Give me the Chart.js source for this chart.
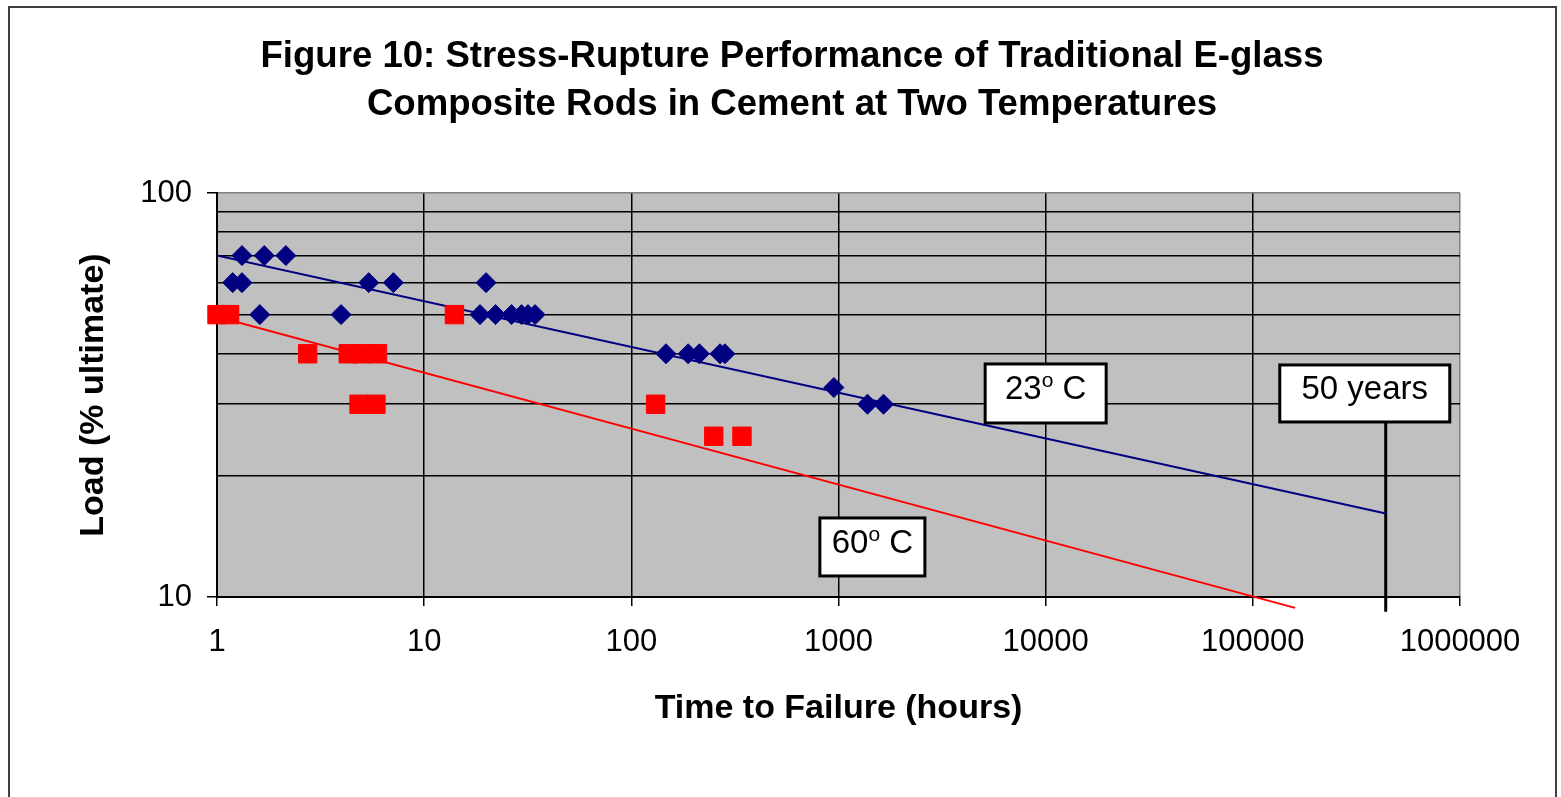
<!DOCTYPE html>
<html>
<head>
<meta charset="utf-8">
<title>Figure 10: Stress-Rupture Performance</title>
<script src="https://cdn.jsdelivr.net/npm/chart.js@4.4.0/dist/chart.umd.min.js"></script>
<style>
  html, body { margin: 0; padding: 0; background: #fff; }
</style>
</head>
<body>
<canvas id="stressChart" width="1561" height="797"></canvas>
<script>
/* =======================
   DATA
======================= */
const titleLines = [
  "Figure 10: Stress-Rupture Performance of Traditional E-glass",
  "Composite Rods in Cement at Two Temperatures"
];

// 23 C test results (hours to failure, load % ultimate)
const hours23 = [1.32, 1.69, 2.15, 1.19, 1.32, 5.4, 7.1, 19.9, 1.61, 3.97, 18.6, 22.1,
  26.4, 29.5, 31.7, 34.3, 147, 188, 213, 268, 283, 950, 1380, 1650];
const load23 = [70, 70, 70, 60, 60, 60, 60, 60, 50, 50, 50, 50,
  50, 50, 50, 50, 40, 40, 40, 40, 40, 33, 30, 30];

// 60 C test results
const hours60 = [1.0, 1.15, 14.0, 2.74, 4.3, 5.0, 5.95, 4.85, 5.85, 131, 250, 342];
const load60 = [50, 50, 50, 40, 40, 40, 40, 30, 30, 30, 25, 25];

// trend lines (end points)
const trend23Hours = [1, 438000];
const trend23Load = [70, 16.1];
const trend60Hours = [1, 160000];
const trend60Load = [49.4, 9.4];

// 50 year marker
const fiftyYearHours = [438000, 438000];
const fiftyYearLoad = [27.1, 9.2];

// axes
const xTickValues = [1, 10, 100, 1000, 10000, 100000, 1000000];
const xTickLabels = ["1", "10", "100", "1000", "10000", "100000", "1000000"];
const yGridValues = [10, 20, 30, 40, 50, 60, 70, 80, 90, 100];
const yLabelValues = [10, 100];
const yLabelTexts = ["10", "100"];

const FONT = '"Liberation Sans", Arial, sans-serif';

/* =======================
   TEXT BOXES ON THE PLOT
======================= */
const labelBoxes = [
  { main: "23", sup: "o", tail: " C", hours: 10000, load: 31.9, w: 121, h: 59 },
  { main: "60", sup: "o", tail: " C", hours: 1457, load: 13.3, w: 105, h: 58 },
  { main: "50 years", sup: "", tail: "", hours: 347000, load: 31.9, w: 170, h: 57 }
];

function toPoints(xs, ys) {
  return xs.map((x, i) => ({ x: x, y: ys[i] }));
}

/* =======================
   PLUGINS
======================= */
const framePlugin = {
  id: "frame",
  beforeDraw(chart) {
    const ctx = chart.ctx;
    const a = chart.chartArea;
    ctx.save();
    ctx.fillStyle = "#fff";
    ctx.fillRect(0, 0, chart.width, chart.height);
    ctx.strokeStyle = "#404040";
    ctx.lineWidth = 2;
    ctx.strokeRect(9, 7, 1547, 820);
    ctx.fillStyle = "#c0c0c0";
    ctx.fillRect(a.left, a.top, a.right - a.left, a.bottom - a.top);

    // title
    ctx.fillStyle = "#000";
    ctx.font = "bold 36.6px " + FONT;
    ctx.textAlign = "center";
    ctx.textBaseline = "middle";
    titleLines.forEach((t, i) => ctx.fillText(t, 792, 57 + i * 48));
    ctx.restore();
  }
};

const boxPlugin = {
  id: "boxes",
  afterDatasetsDraw(chart) {
    const ctx = chart.ctx;
    const xs = chart.scales.x;
    const ys = chart.scales.y;
    ctx.save();
    labelBoxes.forEach(b => {
      const cx = xs.getPixelForValue(b.hours);
      const cy = ys.getPixelForValue(b.load);
      ctx.fillStyle = "#fff";
      ctx.fillRect(cx - b.w / 2, cy - b.h / 2, b.w, b.h);
      ctx.strokeStyle = "#000";
      ctx.lineWidth = 3;
      ctx.strokeRect(cx - b.w / 2, cy - b.h / 2, b.w, b.h);

      // main text + superscript "o" + tail
      const big = "33px " + FONT;
      const small = "21px " + FONT;
      ctx.font = big;
      const wMain = ctx.measureText(b.main).width;
      const wTail = ctx.measureText(b.tail).width;
      ctx.font = small;
      const wSup = b.sup ? ctx.measureText(b.sup).width : 0;
      let x = cx - (wMain + wSup + wTail) / 2;
      const base = cy + 6;
      ctx.fillStyle = "#000";
      ctx.textAlign = "left";
      ctx.textBaseline = "alphabetic";
      ctx.font = big;
      ctx.fillText(b.main, x, base);
      x += wMain;
      if (b.sup) {
        ctx.font = small;
        ctx.fillText(b.sup, x, base - 12);
        x += wSup;
      }
      ctx.font = big;
      ctx.fillText(b.tail, x, base);
    });
    ctx.restore();
  }
};

/* =======================
   CHART
======================= */
new Chart(document.getElementById("stressChart"), {
  type: "scatter",
  data: {
    datasets: [
      {
        label: "23 C",
        data: toPoints(hours23, load23),
        pointStyle: "rectRot",
        pointRadius: 10,
        backgroundColor: "#000080",
        borderColor: "#000080",
        borderWidth: 1,
        clip: false
      },
      {
        label: "60 C",
        data: toPoints(hours60, load60),
        pointStyle: "rect",
        pointRadius: 13,
        backgroundColor: "#ff0000",
        borderColor: "#ff0000",
        borderWidth: 1,
        clip: false
      },
      {
        label: "23 C trend",
        data: toPoints(trend23Hours, trend23Load),
        showLine: true,
        pointRadius: 0,
        borderColor: "#000080",
        borderWidth: 2
      },
      {
        label: "60 C trend",
        data: toPoints(trend60Hours, trend60Load),
        showLine: true,
        pointRadius: 0,
        borderColor: "#ff0000",
        borderWidth: 2,
        clip: { left: 0, top: 0, right: 0, bottom: 15 }
      },
      {
        label: "50 years",
        data: toPoints(fiftyYearHours, fiftyYearLoad),
        showLine: true,
        pointRadius: 0,
        borderColor: "#000",
        borderWidth: 3,
        clip: false
      }
    ]
  },
  options: {
    responsive: false,
    animation: false,
    devicePixelRatio: 1,
    layout: { padding: { left: 0, right: 101, top: 193, bottom: 0 } },
    plugins: {
      legend: { display: false },
      tooltip: { enabled: false },
      title: { display: false }
    },
    scales: {
      x: {
        type: "logarithmic",
        min: 1,
        max: 1000000,
        afterBuildTicks: (scale) => {
          scale.ticks = xTickValues.map(v => ({ value: v }));
        },
        afterFit: (scale) => { scale.height = 200; },
        ticks: {
          autoSkip: false,
          maxRotation: 0,
          padding: 18,
          color: "#000",
          font: { family: FONT, size: 31 },
          callback: (value, index) => xTickLabels[index]
        },
        grid: {
          color: (c) => (c.tick && c.tick.value === 1000000 ? "#808080" : "#000"),
          lineWidth: 1.5,
          tickLength: 9,
          tickColor: "#000"
        },
        border: { display: true, color: "#000", width: 2 },
        title: {
          display: true,
          text: "Time to Failure (hours)",
          color: "#000",
          font: { family: FONT, size: 34, weight: "bold" },
          padding: { top: 0, bottom: 68 }
        }
      },
      y: {
        type: "logarithmic",
        min: 10,
        max: 100,
        afterBuildTicks: (scale) => {
          scale.ticks = yGridValues.map(v => ({ value: v }));
        },
        afterFit: (scale) => { scale.width = 217; },
        ticks: {
          autoSkip: false,
          padding: 15,
          color: "#000",
          font: { family: FONT, size: 31 },
          callback: (value) => {
            const i = yLabelValues.indexOf(value);
            return i >= 0 ? yLabelTexts[i] : "";
          }
        },
        grid: {
          color: (c) => (c.tick && c.tick.value === 100 ? "#808080" : "#000"),
          lineWidth: 1.5,
          tickLength: 10,
          tickColor: (c) => (c.tick && yLabelValues.indexOf(c.tick.value) >= 0 ? "#000" : "rgba(0,0,0,0)")
        },
        border: { display: true, color: "#000", width: 2 },
        title: {
          display: true,
          text: "Load (% ultimate)",
          color: "#000",
          font: { family: FONT, size: 34, weight: "bold" },
          padding: { top: 73, bottom: 0 }
        }
      }
    }
  },
  plugins: [framePlugin, boxPlugin]
});
</script>
</body>
</html>
